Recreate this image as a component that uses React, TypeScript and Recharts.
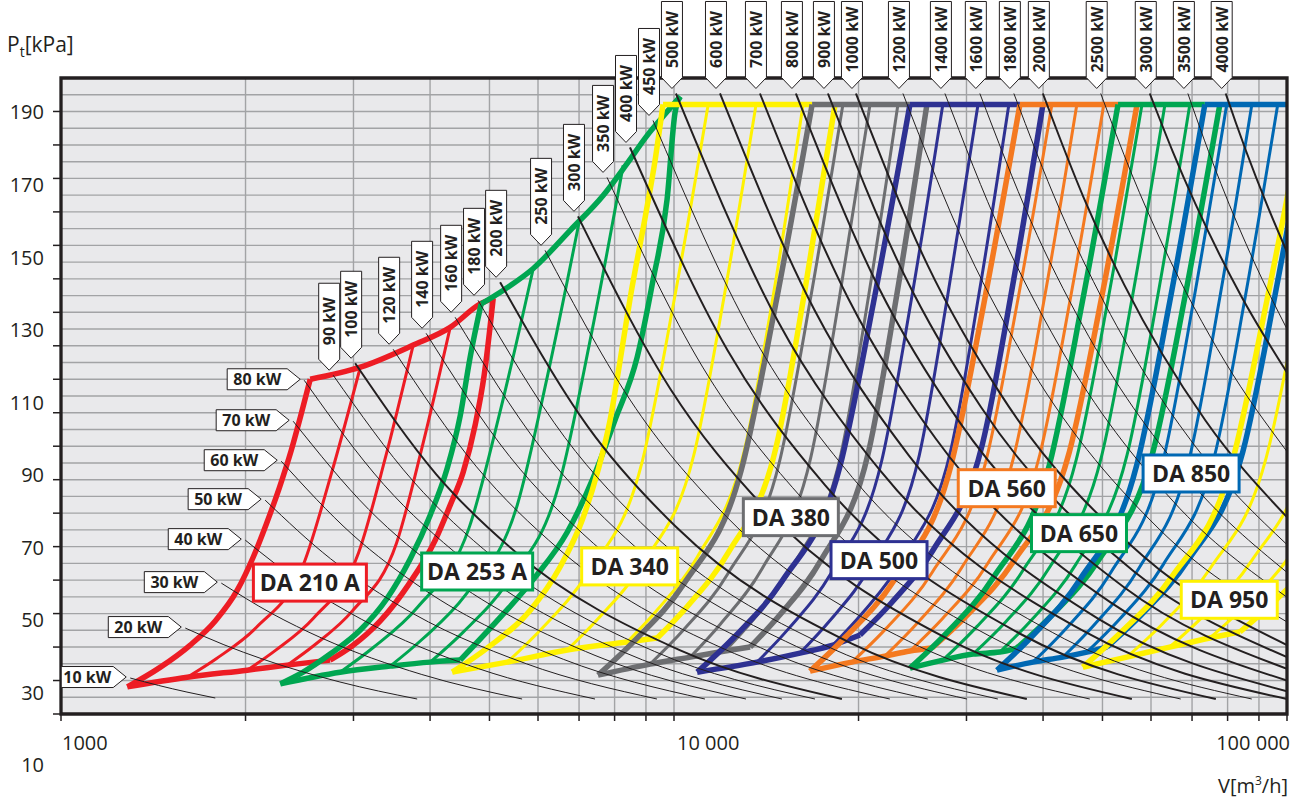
import React from "react";
import { LineChart, Line, XAxis, YAxis, ReferenceArea, ReferenceLine, ReferenceDot } from "recharts";

type Pt = [number, number]; // [V m3/h, Pt kPa]

// ---- fan families: left edge, inner curves, right edge; then bottom and top edges
const da210Curves: Pt[][] = [
  [[1283, 18.1], [1453, 24.0], [1625, 30.6], [1785, 37.8], [1939, 47.0], [2059, 56.9], [2162, 66.7], [2270, 77.5], [2375, 88.8], [2465, 99.6], [2550, 110.0]],
  [[1607, 21.0], [1794, 26.6], [2084, 35.9], [2483, 54.4], [2755, 81.2], [3078, 113.6]],
  [[2013, 23.1], [2238, 29.0], [2583, 38.7], [3057, 58.1], [3378, 86.2], [3754, 120.2]],
  [[2339, 24.6], [2595, 30.7], [2988, 40.8], [3526, 61.0], [3888, 90.2], [4314, 125.5]],
  [[2748, 26.1], [2985, 30.3], [3318, 37.8], [3685, 48.5], [4078, 61.9], [4314, 72.4], [4529, 82.2], [4738, 96.3], [4901, 111.2], [5071, 134.2]],
];
const da210Bottom: Pt[] = [[1283, 18.1], [1607, 21.0], [2013, 23.1], [2339, 24.6], [2748, 26.1]];
const da210Top: Pt[] = [[2550, 110.0], [3078, 113.6], [3754, 120.2], [4314, 125.5], [4829, 132.5], [5071, 134.2]];

const da253Curves: Pt[][] = [
  [[2279, 19.0], [2483, 22.5], [2748, 27.9], [3078, 35.1], [3405, 44.6], [3712, 56.3], [4002, 69.4], [4266, 83.4], [4479, 99.0], [4650, 116.6], [4846, 132.5]],
  [[2853, 22.5], [3228, 29.8], [3813, 41.8], [4637, 65.9], [5213, 100.9], [5894, 143.1]],
  [[3444, 24.3], [3888, 32.4], [4580, 45.8], [5554, 72.6], [6224, 111.4], [7027, 158.4]],
  [[4002, 25.5], [4526, 34.4], [5350, 49.3], [6500, 78.9], [7304, 122.0], [8263, 173.9]],
  [[4479, 26.1], [5250, 39.6], [5937, 50.9], [6695, 64.3], [7380, 80.5], [8013, 97.8], [8709, 116.6], [9245, 139.7], [9743, 163.7], [10040, 189.7], [10240, 194.5]],
];
const da253Bottom: Pt[] = [[2279, 19.0], [2853, 22.5], [3444, 24.3], [4002, 25.5], [4479, 26.1]];
const da253Top: Pt[] = [[4846, 132.5], [5268, 136.6], [5894, 143.1], [6772, 154.5], [7663, 164.9], [8388, 174.5], [9038, 182.8], [9595, 188.5], [10240, 194.5]];

const da340Curves: Pt[][] = [
  [[4347, 22.5], [4956, 29.7], [5829, 41.0], [6518, 53.9], [7082, 67.9], [7517, 82.8], [7866, 97.8], [8169, 115.7], [8481, 134.2], [8986, 159.0], [9314, 175.4], [9596, 192.1]],
  [[5346, 25.5], [6077, 35.4], [7228, 52.0], [8863, 85.0], [9990, 133.0], [11370, 192.1]],
  [[6695, 29.1], [7550, 38.8], [8892, 55.0], [10770, 87.3], [12060, 134.3], [13610, 192.1]],
  [[8388, 31.5], [9379, 41.0], [10920, 57.0], [13030, 88.9], [14520, 135.1], [16240, 192.1]],
  [[9390, 32.7], [10520, 42.2], [12260, 58.2], [14690, 90.1], [16340, 136.3], [18310, 192.1]],
];
const da340Bottom: Pt[] = [[4347, 22.5], [5346, 25.5], [6695, 29.1], [8388, 31.5], [9390, 32.7]];
const da340Top: Pt[] = [[9596, 192.1], [16800, 192.1]];

const da380Curves: Pt[][] = [
  [[7517, 21.6], [8624, 31.9], [10380, 48.9], [12880, 83.0], [14650, 132.4], [16800, 192.1]],
  [[9141, 24.9], [10350, 35.0], [12220, 51.7], [14850, 85.1], [16680, 133.6], [18860, 192.1]],
  [[10630, 27.0], [11910, 36.9], [13920, 53.4], [16710, 86.5], [18610, 134.3], [20880, 192.1]],
  [[12110, 28.8], [13530, 38.6], [15710, 54.9], [18720, 87.6], [20770, 134.9], [23190, 192.1]],
  [[13310, 30.0], [14900, 39.7], [17360, 55.9], [20770, 88.4], [23100, 135.4], [25860, 192.1]],
];
const da380Bottom: Pt[] = [[7517, 21.6], [9141, 24.9], [10630, 27.0], [12110, 28.8], [13310, 30.0]];
const da380Top: Pt[] = [[16800, 192.1], [24260, 192.1]];

const da500Curves: Pt[][] = [
  [[10910, 22.5], [12500, 32.7], [15010, 49.7], [18630, 83.6], [21150, 132.8], [24260, 192.1]],
  [[13660, 25.5], [15380, 35.5], [18060, 52.2], [21810, 85.5], [24390, 133.8], [27450, 192.1]],
  [[16050, 28.2], [17980, 38.0], [20970, 54.4], [25120, 87.2], [27940, 134.7], [31330, 192.1]],
  [[18170, 30.6], [20330, 40.3], [23670, 56.5], [28280, 88.8], [31450, 135.6], [35180, 192.1]],
  [[20110, 33.6], [22600, 43.1], [26470, 59.0], [31860, 90.7], [35570, 136.6], [39980, 192.1]],
];
const da500Bottom: Pt[] = [[10910, 22.5], [13660, 25.5], [16050, 28.2], [18170, 30.6], [20110, 33.6]];
const da500Top: Pt[] = [[24260, 192.1], [36670, 192.1]];

const da560Curves: Pt[][] = [
  [[16670, 22.8], [19050, 33.0], [22850, 49.9], [28260, 83.8], [32040, 132.8], [36670, 192.1]],
  [[19510, 25.5], [22170, 35.5], [26350, 52.2], [32270, 85.5], [36390, 133.8], [41350, 192.1]],
  [[22080, 27.3], [24950, 37.2], [29460, 53.7], [35800, 86.6], [40220, 134.4], [45410, 192.1]],
  [[24260, 28.8], [27450, 38.6], [32470, 54.9], [39530, 87.6], [44400, 134.9], [50250, 192.1]],
  [[26350, 29.7], [30030, 39.4], [35840, 55.7], [44140, 88.2], [49950, 135.3], [56930, 192.1]],
];
const da560Bottom: Pt[] = [[16670, 22.8], [19510, 25.5], [22080, 27.3], [24260, 28.8], [26350, 29.7]];
const da560Top: Pt[] = [[36670, 192.1], [53010, 192.1]];

const da650Curves: Pt[][] = [
  [[24260, 23.7], [27700, 33.8], [33170, 50.7], [40950, 84.3], [46370, 133.2], [53010, 192.1]],
  [[27450, 26.1], [31190, 36.1], [37030, 52.7], [45300, 85.9], [51080, 134.0], [58010, 192.1]],
  [[30740, 27.9], [34750, 37.5], [41020, 53.9], [49800, 86.8], [55930, 134.5], [63220, 192.1]],
  [[34010, 28.5], [38400, 38.3], [45240, 54.7], [54840, 87.4], [61520, 134.8], [69420, 192.1]],
  [[36250, 29.7], [41280, 39.4], [49170, 55.7], [60420, 88.2], [68270, 135.3], [77700, 192.1]],
];
const da650Bottom: Pt[] = [[24260, 23.7], [27450, 26.1], [30740, 27.9], [34010, 28.5], [36250, 29.7]];
const da650Top: Pt[] = [[53010, 192.1], [73450, 192.1]];

const da850Curves: Pt[][] = [
  [[33640, 23.1], [38410, 33.3], [45950, 50.2], [56800, 84.0], [64350, 133.0], [73450, 192.1]],
  [[38500, 25.5], [43580, 35.5], [51560, 52.2], [62760, 85.5], [70460, 133.8], [79740, 192.1]],
  [[43100, 27.0], [48610, 36.9], [57270, 53.4], [69320, 86.5], [77670, 134.3], [87630, 192.1]],
  [[47150, 28.5], [53300, 38.3], [62850, 54.7], [76250, 87.4], [85520, 134.8], [96580, 192.1]],
  [[50850, 30.0], [57900, 39.7], [68960, 55.9], [84730, 88.4], [95660, 135.4], [108900, 192.1]],
];
const da850Bottom: Pt[] = [[33640, 23.1], [38500, 25.5], [43100, 27.0], [47150, 28.5], [50850, 30.0]];
const da850Top: Pt[] = [[73450, 192.1], [110000, 192.1]];

const da950Curves: Pt[][] = [
  [[46440, 24.0], [53400, 34.1], [64810, 50.9], [81190, 84.5], [92670, 133.3], [107000, 192.1]],
  [[54780, 27.0], [62620, 36.9], [74860, 53.4], [92470, 86.5], [104800, 134.3], [119600, 192.1]],
  [[64350, 30.0], [73420, 39.7], [87630, 55.9], [107900, 88.4], [122000, 135.4], [139000, 192.1]],
  [[74800, 32.7], [85300, 42.2], [101900, 58.2], [125400, 90.1], [141800, 136.3], [160500, 192.1]],
  [[83780, 34.5], [95740, 43.9], [114900, 59.7], [143000, 91.2]],
];
const da950Bottom: Pt[] = [[46440, 24.0], [54780, 27.0], [64350, 30.0], [74800, 32.7], [83780, 34.5]];

// ---- shaft power lines (kW)
const isoKw = [10, 20, 30, 40, 50, 60, 70, 80, 90, 100, 120, 140, 160, 180, 200, 250, 300, 350, 400, 450, 500,
  600, 700, 800, 900, 1000, 1200, 1400, 1600, 1800, 2000, 2500, 3000, 3500, 4000];
const isoLines: Pt[][] = [
  [[1297, 20.75], [1443, 18.53], [1605, 16.55], [1785, 14.78]],
  [[1595, 35.67], [1844, 30.69], [2133, 26.4], [2851, 19.56], [3811, 14.48]],
  [[1826, 49.1], [2204, 40.09], [2661, 32.7], [3878, 21.8], [5652, 14.48]],
  [[1998, 61.94], [2487, 48.68], [3095, 38.25], [4798, 23.55], [7433, 14.48]],
  [[2153, 73.88], [2751, 56.41], [3517, 43.0], [5744, 25.0], [9380, 14.48]],
  [[2287, 85.52], [2982, 63.75], [3887, 47.5], [6609, 26.3], [11232, 14.48]],
  [[2392, 97.46], [3176, 71.13], [4217, 51.9], [7433, 27.5], [13105, 14.48]],
  [[2493, 109.7], [3362, 78.55], [4535, 56.2], [8249, 28.6], [15001, 14.48]],
  [[2780, 111.2], [3759, 79.44], [5082, 56.7], [9290, 28.7], [16983, 14.48]],
  [[3019, 114.78], [4094, 81.61], [5555, 57.9], [10216, 29.1], [18790, 14.48]],
  [[3482, 118.96], [4753, 84.05], [6485, 59.3], [12078, 29.4], [22497, 14.48]],
  [[3941, 123.73], [5396, 86.91], [7386, 61.0], [13844, 29.8], [25949, 14.48]],
  [[4395, 128.51], [6056, 89.69], [8341, 62.5], [15831, 30.2], [30049, 14.48]],
  [[4790, 133.58], [6634, 92.66], [9183, 64.2], [17608, 30.6], [33756, 14.48]],
  [[5204, 138.96], [7239, 95.79], [10062, 66.0], [19463, 31.1], [37634, 14.48]],
  [[6161, 148.51], [8667, 101.25], [12185, 68.9], [24099, 31.8], [47679, 14.48]],
  [[6972, 158.66], [9865, 107.1], [13949, 72.2], [27907, 32.5], [55834, 14.48]],
  [[7776, 170.3], [11137, 113.63], [15949, 75.7], [32710, 33.3], [67085, 14.48]],
  [[8477, 179.25], [12233, 118.61], [17649, 78.3], [36755, 33.9], [76542, 14.48]],
  [[9242, 187.31], [13445, 123.02], [19556, 80.6], [41399, 34.4], [87604, 14.48]],
  [[10074, 195.37], [14768, 127.4], [21651, 82.9], [46531, 34.8], [100000, 14.48]],
  [[11885, 195.37], [16950, 130.68], [24169, 87.2], [49165, 38.5], [100000, 16.8]],
  [[13810, 195.37], [19214, 134.37], [26720, 92.3], [51686, 43.2], [100000, 20.0]],
  [[15809, 195.37], [21499, 137.94], [29232, 97.2], [54075, 48.0], [100000, 23.5]],
  [[17828, 195.37], [23765, 141.07], [31675, 101.7], [56286, 52.6], [100000, 27.0]],
  [[19808, 195.37], [25947, 143.94], [33977, 106.0], [58292, 57.1], [100000, 30.6]],
  [[23631, 195.37], [30054, 148.81], [38223, 113.2], [61822, 65.3], [100000, 37.5]],
  [[27666, 195.37], [34273, 153.26], [42459, 120.1], [65163, 73.6], [100000, 44.9]],
  [[31544, 195.37], [38231, 157.13], [46344, 126.3], [68077, 81.4], [100000, 52.3]],
  [[35845, 195.37], [42534, 160.95], [50468, 132.5], [71050, 89.7], [100000, 60.6]],
  [[39968, 195.37], [46568, 164.36], [54270, 138.2], [73663, 97.6], [100000, 68.8]],
  [[49672, 195.37], [55816, 171.28], [62724, 150.1], [79196, 115.3], [100000, 88.4]],
  [[59722, 195.37], [65079, 178.1], [70922, 162.3], [84218, 134.8], [100000, 112]],
  [[68910, 195.37], [73320, 181.43], [78014, 168.45], [88335, 145.14], [100000, 125]],
  [[79433, 195.37], [82539, 186.57], [85743, 178.2], [92624, 162.4], [100000, 148]],
];
const boldKw = [100, 200, 300, 400, 500, 600, 700, 800, 900, 1000, 2000, 3000, 4000];

// ---- axes / grid
const xTicks = [1000, 2000, 3000, 4000, 5000, 6000, 7000, 8000, 9000, 10000,
  20000, 30000, 40000, 50000, 60000, 70000, 80000, 90000, 100000];
const yTicks = [10, 20, 30, 40, 50, 60, 70, 80, 90, 100, 110, 120, 130, 140, 150, 160, 170, 180, 190];
const yLabelled = [190, 170, 150, 130, 110, 90, 70, 50, 30, 10];
const gridP = [15, 20, 25, 30, 35, 40, 45, 50, 55, 60, 65, 70, 75, 80, 85, 90, 95, 100, 105, 110, 115, 120,
  125, 130, 135, 140, 145, 150, 155, 160, 165, 170, 175, 180, 185, 190, 195];
const gridV = [2000, 3000, 4000, 5000, 6000, 7000, 8000, 9000, 10000, 20000, 30000, 40000, 50000, 60000, 70000, 80000, 90000];

// label box anchors (V, Pt)
const labelAt: Pt[] = [[2547, 49.25], [4774, 52.57], [8466, 54.09], [15510, 68.81], [21600, 55.97],
  [34900, 77.46], [45780, 64.03], [69750, 81.85], [80500, 44.12]];

const INK = "#231f20";
const FONT = "'Open Sans', 'Noto Sans', sans-serif";

const families = [
  { name: "DA 210 A", color: "#ed1c24", curves: da210Curves, bottom: da210Bottom, top: da210Top, w: 113 },
  { name: "DA 253 A", color: "#00a651", curves: da253Curves, bottom: da253Bottom, top: da253Top, w: 111 },
  { name: "DA 340", color: "#fff200", curves: da340Curves, bottom: da340Bottom, top: da340Top, w: 96 },
  { name: "DA 380", color: "#6d6e71", curves: da380Curves, bottom: da380Bottom, top: da380Top, w: 95 },
  { name: "DA 500", color: "#2e3192", curves: da500Curves, bottom: da500Bottom, top: da500Top, w: 96 },
  { name: "DA 560", color: "#f47920", curves: da560Curves, bottom: da560Bottom, top: da560Top, w: 97 },
  { name: "DA 650", color: "#00a651", curves: da650Curves, bottom: da650Bottom, top: da650Top, w: 95 },
  { name: "DA 850", color: "#0068b3", curves: da850Curves, bottom: da850Bottom, top: da850Top, w: 96 },
  { name: "DA 950", color: "#fff200", curves: da950Curves, bottom: da950Bottom, top: [] as Pt[], w: 96 },
];

const rows = (a: Pt[]) => a.map(([v, p]) => ({ v, p }));

const series = (key: string, d: Pt[], color: string, width: number, z: number) => (
  <Line
    key={key}
    data={rows(d)}
    dataKey="p"
    type="monotone"
    stroke={color}
    strokeWidth={width}
    dot={false}
    activeDot={false}
    isAnimationActive={false}
    legendType="none"
    zIndex={z}
  />
);

const renderYTick = (props: any) => {
  const { y, payload } = props;
  const v = payload.value;
  if (!yLabelled.includes(v)) return <g />;
  // printed labels drift slightly from their ticks, as in the source sheet
  const drift = (190 - v) * 0.28 + 1;
  return (
    <text x={44} y={y + drift + 7} textAnchor="end" fontSize={20} fill={INK} fontFamily={FONT}>
      {v}
    </text>
  );
};

const renderXTick = (props: any) => {
  const { x, payload } = props;
  const v = payload.value;
  const common = { y: 750, fontSize: 20, fill: INK, fontFamily: FONT };
  if (v === 1000) return <text x={x + 1} {...common}>1000</text>;
  if (v === 10000) return <text x={x + 3} {...common}>10 000</text>;
  if (v === 100000) return <text x={x + 3} textAnchor="end" {...common}>100 000</text>;
  return <g />;
};

const sideTag = (label: string, width: number) => (props: any) => {
  const tx = props.cx - 4;
  const ty = props.cy - 1;
  const l = tx - width;
  return (
    <g>
      <polygon
        points={`${l},${ty - 10.5} ${tx - 13},${ty - 10.5} ${tx},${ty} ${tx - 13},${ty + 10.5} ${l},${ty + 10.5}`}
        fill="#fff"
        stroke={INK}
        strokeWidth={1}
      />
      <text x={(l + tx - 13) / 2} y={ty + 6} textAnchor="middle" fontSize={16} fontWeight={700} fill={INK} fontFamily={FONT}>
        {label}
      </text>
    </g>
  );
};

const topTag = (label: string) => (props: any) => {
  const tx = props.cx - 4;
  const ty = props.cy - 5;
  const top = ty - 87;
  const mid = ty - 49;
  return (
    <g>
      <polygon
        points={`${tx - 10.5},${top} ${tx + 10.5},${top} ${tx + 10.5},${ty - 11} ${tx},${ty} ${tx - 10.5},${ty - 11}`}
        fill="#fff"
        stroke={INK}
        strokeWidth={1}
      />
      <text
        x={tx}
        y={mid}
        transform={`rotate(-90 ${tx} ${mid})`}
        textAnchor="middle"
        dominantBaseline="central"
        fontSize={16}
        fontWeight={700}
        fill={INK}
        fontFamily={FONT}
      >
        {label}
      </text>
    </g>
  );
};

const labelBox = (name: string, color: string, w: number) => (props: any) => {
  const { cx, cy } = props;
  return (
    <g>
      <rect x={cx - w / 2} y={cy - 18.5} width={w} height={37} fill="#fff" stroke={color} strokeWidth={3} />
      <text x={cx} y={cy + 8.5} textAnchor="middle" fontSize={23} fontWeight={700} fill={INK} fontFamily={FONT}>
        {name}
      </text>
    </g>
  );
};

export default function App() {
  return (
    <div style={{ position: "absolute", left: 0, top: 0, width: 1311, height: 805, background: "#fff" }}>
      <LineChart width={1311} height={805} margin={{ top: 78, right: 24, bottom: 0, left: 0 }}>
        <XAxis
          dataKey="v"
          type="number"
          scale="log"
          domain={[1000, 100000]}
          allowDataOverflow
          ticks={xTicks}
          interval={0}
          height={91}
          tickSize={7}
          axisLine={false}
          tickLine={{ stroke: INK, strokeWidth: 1.5 }}
          tick={renderXTick}
        />
        <YAxis
          dataKey="p"
          type="number"
          domain={[10, 200]}
          allowDataOverflow
          ticks={yTicks}
          interval={0}
          width={61}
          tickSize={8}
          axisLine={false}
          tickLine={{ stroke: INK, strokeWidth: 1.5 }}
          tick={renderYTick}
        />

        <ReferenceArea x1={1000} x2={100000} y1={10} y2={200} fill="#e9e9eb" fillOpacity={1} stroke="none" ifOverflow="visible" zIndex={-200} />
        {gridP.map((p) => (
          <ReferenceLine key={`gp${p}`} y={p} stroke="#a2a3a5" strokeWidth={1.4} zIndex={-150} />
        ))}
        {gridV.map((v) => (
          <ReferenceLine key={`gv${v}`} x={v} stroke="#a2a3a5" strokeWidth={1.4} zIndex={-150} />
        ))}

        {families.flatMap((f) => {
          const last = f.curves.length - 1;
          return [
            ...f.curves.map((c, i) =>
              series(`${f.name}-c${i}`, c, f.color, i === 0 || i === last ? 5.5 : 3, 400)
            ),
            series(`${f.name}-bottom`, f.bottom, f.color, 5.5, 400),
            ...(f.top.length ? [series(`${f.name}-top`, f.top, f.color, 5.5, 400)] : []),
          ];
        })}

        {isoLines.map((d, i) =>
          series(`kw${isoKw[i]}`, d, INK, boldKw.includes(isoKw[i]) ? 2 : 1, 450)
        )}

        <ReferenceArea x1={1000} x2={100000} y1={10} y2={200} fill="none" stroke={INK} strokeWidth={3.3} ifOverflow="visible" zIndex={1500} />

        {isoLines.map((d, i) => {
          const kw = isoKw[i];
          const label = `${kw} kW`;
          return (
            <ReferenceDot
              key={`tag${kw}`}
              x={d[0][0]}
              y={d[0][1]}
              r={0}
              ifOverflow="visible"
              zIndex={1600}
              shape={kw <= 80 ? sideTag(label, kw === 10 ? 65 : 73) : topTag(label)}
            />
          );
        })}

        {families.map((f, i) => (
          <ReferenceDot
            key={`lbl${f.name}`}
            x={labelAt[i][0]}
            y={labelAt[i][1]}
            r={0}
            ifOverflow="visible"
            zIndex={1700}
            shape={labelBox(f.name, f.color, f.w)}
          />
        ))}
      </LineChart>

      <svg width={1311} height={805} style={{ position: "absolute", left: 0, top: 0, pointerEvents: "none" }}>
        <text x={7} y={52} fontSize={21} fill={INK} fontFamily={FONT}>
          P<tspan dy={5} fontSize={14}>t</tspan>
          <tspan dy={-5}>[kPa]</tspan>
        </text>
        <text x={1288} y={793} textAnchor="end" fontSize={20} fill={INK} fontFamily={FONT}>
          V[m<tspan dy={-8} fontSize={12}>3</tspan>
          <tspan dy={8}>/h]</tspan>
        </text>
      </svg>
    </div>
  );
}
